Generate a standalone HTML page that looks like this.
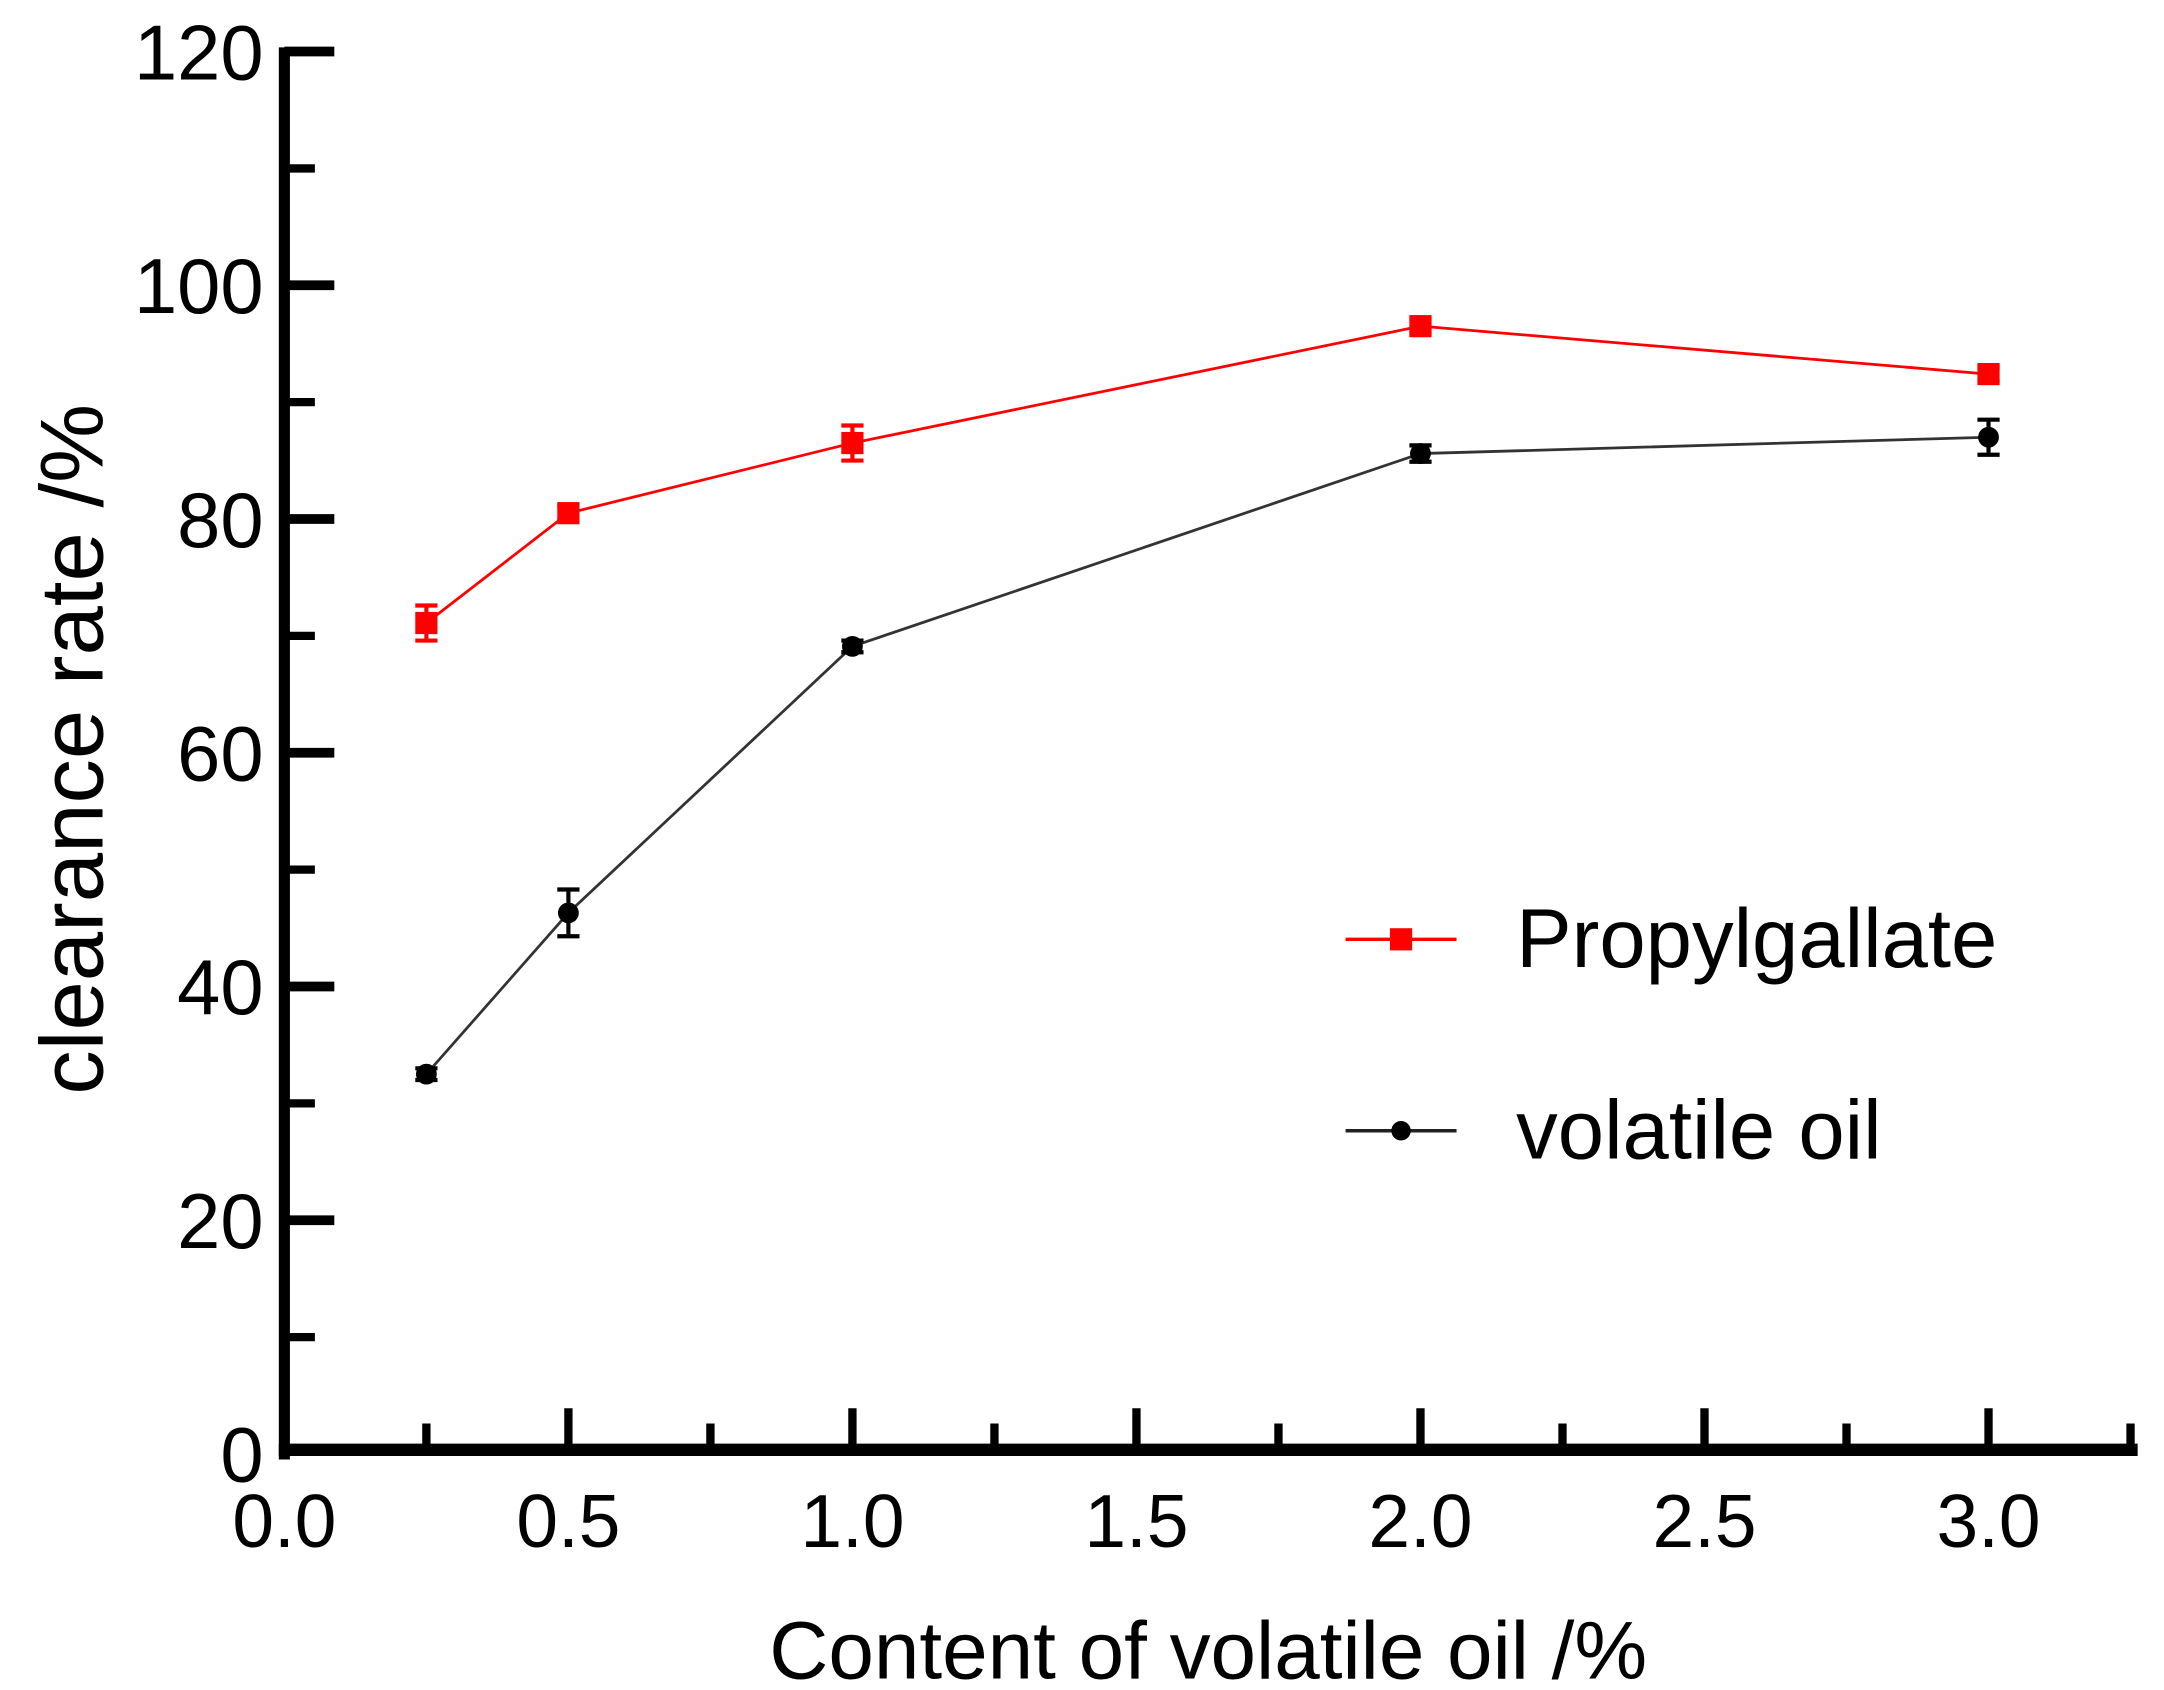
<!DOCTYPE html>
<html><head><meta charset="utf-8"><style>
html,body{margin:0;padding:0;background:#fff;}
svg{display:block;font-family:"Liberation Sans",Arial,sans-serif;}
</style></head><body>
<svg id="chart" width="2164" height="1690" viewBox="0 0 1560 1218" xmlns="http://www.w3.org/2000/svg">
<g id="axes"></g>
<g id="series"></g>
<text transform="translate(74,540) rotate(-90)" text-anchor="middle" font-size="64">clearance rate /%</text>
<text x="871" y="1210" text-anchor="middle" font-size="59">Content of volatile oil /%</text>
<g>
<g>
<line x1="970" y1="677" x2="1050" y2="677" stroke="#f00" stroke-width="2.5"/>
<rect x="1002" y="669" width="16" height="16" fill="#f00"/>
<text x="1093" y="697" font-size="60">Propylgallate</text>
</g>
<g>
<line x1="970" y1="815" x2="1050" y2="815" stroke="#222" stroke-width="2.5"/>
<circle cx="1010" cy="815" r="7" fill="#000"/>
<text x="1093" y="835" font-size="60">volatile oil</text>
</g>
</g>
</svg>
<script>
const xValues = [0.25, 0.5, 1.0, 2.0, 3.0];
const propylValues = [71.1, 80.5, 86.5, 96.5, 92.4];
const propylErrors = [1.5, 0.6, 1.5, 0.6, 0.6];
const oilValues = [32.5, 46.3, 69.1, 85.6, 87.0];
const oilErrors = [0.5, 2.0, 0.5, 0.7, 1.5];
const yTicks = [0, 20, 40, 60, 80, 100, 120];
const xTicks = ["0.0", "0.5", "1.0", "1.5", "2.0", "2.5", "3.0"];

const NS = "http://www.w3.org/2000/svg";
const X0 = 205, XS = 409.5;
const Y0 = 1048, YS = 8.425;
const sx = v => X0 + v * XS;
const sy = v => Y0 - v * YS;
function mk(tag, attrs, parent) {
  const e = document.createElementNS(NS, tag);
  for (const k in attrs) e.setAttribute(k, attrs[k]);
  parent.appendChild(e);
  return e;
}
const axes = document.getElementById('axes');
let yl = mk('line', {x1: X0, y1: sy(120) - 3, x2: X0, y2: Y0 + 4, stroke: '#000', 'stroke-width': 8}, axes);


let xl = mk('line', {x1: X0 - 4, y1: Y0 - 3, x2: 1541, y2: Y0 - 3, stroke: '#000', 'stroke-width': 9}, axes);


for (let i = 0; i < yTicks.length; i++) {
  const v = yTicks[i];
  if (v > 0) {
    const t = mk('line', {x1: X0, y1: sy(v), x2: X0 + 36, y2: sy(v), stroke: '#000', 'stroke-width': 7}, axes);
    
    
  }
  if (i < yTicks.length - 1) {
    const m = (v + yTicks[i + 1]) / 2;
    const t2 = mk('line', {x1: X0, y1: sy(m), x2: X0 + 22, y2: sy(m), stroke: '#000', 'stroke-width': 6}, axes);
    
    
  }
  const lb = mk('text', {x: 190, y: sy(v) + 20, 'text-anchor': 'end', 'font-size': 56}, axes);
  lb.textContent = v;
  
  
}
for (let i = 0; i < xTicks.length; i++) {
  const v = parseFloat(xTicks[i]);
  if (v > 0) {
    const t = mk('line', {x1: sx(v), y1: Y0, x2: sx(v), y2: Y0 - 33, stroke: '#000', 'stroke-width': 6}, axes);
    
    
  }
  const m = v + 0.25;
  const t2 = mk('line', {x1: sx(m), y1: Y0, x2: sx(m), y2: Y0 - 22, stroke: '#000', 'stroke-width': 6}, axes);
  
  
  const lb = mk('text', {x: sx(v), y: 1115, 'text-anchor': 'middle', 'font-size': 54}, axes);
  lb.textContent = xTicks[i];
  
  
}
const series = document.getElementById('series');
function drawSeries(vals, errs, color, lineColor, shape, name) {
  const g = mk('g', {}, series);
  
  
  const pts = xValues.map((x, i) => sx(x) + ',' + sy(vals[i])).join(' ');
  const pl = mk('polyline', {points: pts, fill: 'none', stroke: lineColor, 'stroke-width': 2}, g);
  
  
  xValues.forEach((x, i) => {
    const cx = sx(x), cy = sy(vals[i]);
    const hi = sy(vals[i] + errs[i]), lo = sy(vals[i] - errs[i]);
    const eb = mk('path', {d: `M${cx},${hi}V${lo}M${cx - 8},${hi}H${cx + 8}M${cx - 8},${lo}H${cx + 8}`, stroke: color, 'stroke-width': 3, fill: 'none'}, g);
    
    
    let mkr;
    if (shape === 'square') mkr = mk('rect', {x: cx - 8, y: cy - 8, width: 16, height: 16, fill: color}, g);
    else mkr = mk('circle', {cx: cx, cy: cy, r: 7.5, fill: color}, g);
    
    
  });
}
drawSeries(propylValues, propylErrors, '#f00', '#f00', 'square', 'propylgallate');
drawSeries(oilValues, oilErrors, '#000', '#333', 'circle', 'volatile-oil');
</script>
</body></html>
